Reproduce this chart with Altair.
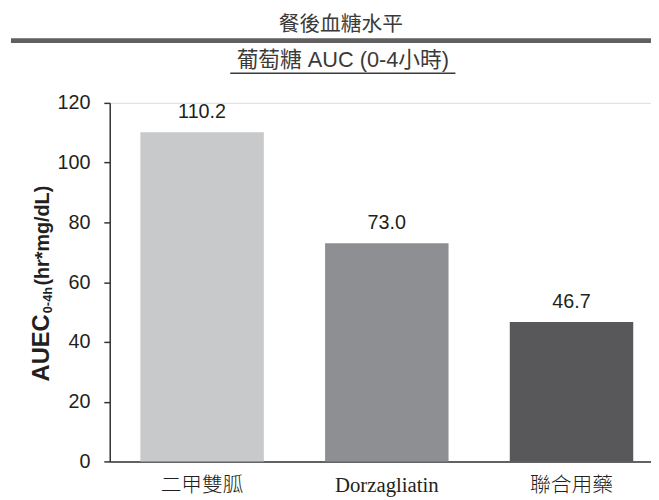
import altair as alt
import pandas as pd

categories = ["二甲雙胍", "Dorzagliatin", "聯合用藥"]
values = [110.2, 73.0, 46.7]
bar_colors = ["#c8c9cb", "#8e8f93", "#58585a"]
title_text = "餐後血糖水平"
subtitle_text = "葡萄糖 AUC (0-4小時)"
y_title_main = "AUEC"
y_title_sub = "0-4h"
y_title_unit = "(hr*mg/dL)"
y_ticks = [0, 20, 40, 60, 80, 100, 120]

W, H = 548, 363
TXT = "#231f20"

df = pd.DataFrame({"cat": categories, "val": values})

x_enc = alt.X(
    "cat:N",
    sort=categories,
    scale=alt.Scale(paddingInner=0.3316, paddingOuter=0.131, align=0.633),
    axis=alt.Axis(
        title=None, labelAngle=0, ticks=False, labelPadding=13,
        labelFontSize=21, labelFont="Liberation Serif, Noto Sans CJK TC",
        labelFontWeight=300,
        labelColor=TXT, domainColor="#333333", domainWidth=1.5,
    ),
)
y_enc = alt.Y(
    "val:Q",
    scale=alt.Scale(domain=[0, 120], nice=False),
    axis=alt.Axis(
        title=None, values=y_ticks, grid=False, tickSize=6,
        tickColor="#333333", tickWidth=1.5, domainColor="#333333", domainWidth=1.5,
        labelFontSize=20, labelFont="Liberation Sans", labelColor=TXT, labelPadding=14,
    ),
)

base = alt.Chart(df)
bars = base.mark_bar().encode(
    x=x_enc,
    y=y_enc,
    color=alt.Color("cat:N", sort=categories,
                    scale=alt.Scale(domain=categories, range=bar_colors), legend=None),
)
labels = base.mark_text(
    dy=-14, baseline="alphabetic", fontSize=20, font="Liberation Sans", color=TXT
).encode(x=alt.X("cat:N", sort=categories), y="val:Q", text=alt.Text("val:Q", format=".1f"))

one = pd.DataFrame({"k": [0]})

title_mark = alt.Chart(one).mark_text(
    text=title_text, fontSize=21, font="Noto Sans CJK TC", color="#3a3a3a", baseline="middle"
).encode(x=alt.value(234), y=alt.value(-79))

sep_line = alt.Chart(one).mark_rule(color="#606060", strokeWidth=5).encode(
    x=alt.value(-100), x2=alt.value(W), y=alt.value(-63)
)

sub_mark = alt.Chart(one).mark_text(
    text=subtitle_text, fontSize=22, font="Liberation Sans, Noto Sans CJK TC",
    color="#3a3a3a", baseline="middle"
).encode(x=alt.value(236), y=alt.value(-43))

underline = alt.Chart(one).mark_rule(color="#3a3a3a", strokeWidth=1.5).encode(
    x=alt.value(122), x2=alt.value(350), y=alt.value(-30)
)

yt_kw = dict(angle=270, align="left", baseline="alphabetic", font="Liberation Sans",
             fontWeight="bold", color=TXT)
yt1 = alt.Chart(one).mark_text(text=y_title_main, fontSize=24, **yt_kw).encode(
    x=alt.value(-61), y=alt.value(282))
yt2 = alt.Chart(one).mark_text(text=y_title_sub, fontSize=13, **yt_kw).encode(
    x=alt.value(-58), y=alt.value(213))
yt3 = alt.Chart(one).mark_text(text=y_title_unit, fontSize=20, **yt_kw).encode(
    x=alt.value(-61), y=alt.value(185))

chart = alt.layer(bars, labels, title_mark, sep_line, sub_mark, underline, yt1, yt2, yt3).properties(
    width=W, height=H,
    autosize=alt.AutoSizeParams(type="none"),
    padding={"left": 103, "top": 93, "right": 0, "bottom": 36},
).configure_view(stroke=None).configure(background="white")

chart.save("out.html", embed_options={"renderer": "svg", "actions": False})
